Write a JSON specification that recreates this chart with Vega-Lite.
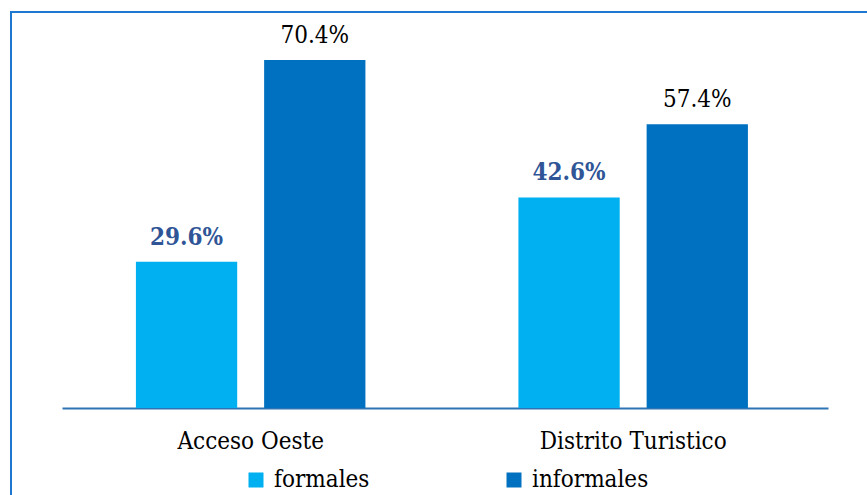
{
  "$schema": "https://vega.github.io/schema/vega-lite/v6.json",
  "width": 870,
  "height": 495,
  "autosize": {"type": "none"},
  "padding": {"left": 11, "top": 12, "right": 0, "bottom": 0},
  "background": "white",
  "config": {
    "view": {"stroke": "#1E78CF", "strokeWidth": 2},
    "font": "DejaVu Serif Condensed"
  },
  "data": {
    "values": [
      {"region": "Acceso Oeste", "tipo": "formales", "value": 0.296},
      {"region": "Acceso Oeste", "tipo": "informales", "value": 0.704},
      {"region": "Distrito Turistico", "tipo": "formales", "value": 0.426},
      {"region": "Distrito Turistico", "tipo": "informales", "value": 0.574}
    ]
  },
  "encoding": {
    "x": {
      "field": "region",
      "type": "nominal",
      "sort": null,
      "scale": {"range": [51, 817], "paddingInner": 0.4, "paddingOuter": 0.2013, "align": 0.48},
      "axis": {
        "title": null,
        "labelAngle": 0,
        "ticks": false,
        "domainColor": "#2E75B6",
        "domainWidth": 2,
        "offset": -99,
        "labelFontSize": 24,
        "labelFont": "DejaVu Serif Condensed",
        "labelLimit": 400,
        "labelColor": "#000000",
        "labelPadding": 21
      }
    },
    "xOffset": {
      "field": "tipo",
      "type": "nominal",
      "scale": {"paddingInner": 0.21, "paddingOuter": 0}
    },
    "y": {
      "field": "value",
      "type": "quantitative",
      "scale": {"domain": [0, 0.704], "range": [396, 48], "nice": false, "zero": true},
      "axis": null
    }
  },
  "layer": [
    {
      "mark": {"type": "bar"},
      "encoding": {
        "color": {
          "field": "tipo",
          "type": "nominal",
          "scale": {"domain": ["formales", "informales"], "range": ["#00B0F0", "#0070C0"]},
          "legend": {
            "title": null,
            "orient": "none",
            "direction": "horizontal",
            "legendX": 233,
            "legendY": 456,
            "symbolType": "square",
            "symbolSize": 225,
            "symbolStrokeWidth": 0,
            "labelFontSize": 24,
            "labelFont": "DejaVu Serif Condensed",
            "labelColor": "#000000",
            "labelOffset": 6,
            "columnPadding": 132
          }
        }
      }
    },
    {
      "transform": [{"filter": "datum.tipo === 'formales'"}],
      "mark": {"type": "text", "baseline": "alphabetic", "dy": -17, "fontSize": 24, "fontWeight": "bold", "color": "#2F5597", "font": "DejaVu Serif Condensed"},
      "encoding": {"text": {"field": "value", "type": "quantitative", "format": ".1%"}}
    },
    {
      "transform": [{"filter": "datum.tipo === 'informales'"}],
      "mark": {"type": "text", "baseline": "alphabetic", "dy": -17, "fontSize": 24, "color": "#000000", "font": "DejaVu Serif Condensed"},
      "encoding": {"text": {"field": "value", "type": "quantitative", "format": ".1%"}}
    }
  ]
}
